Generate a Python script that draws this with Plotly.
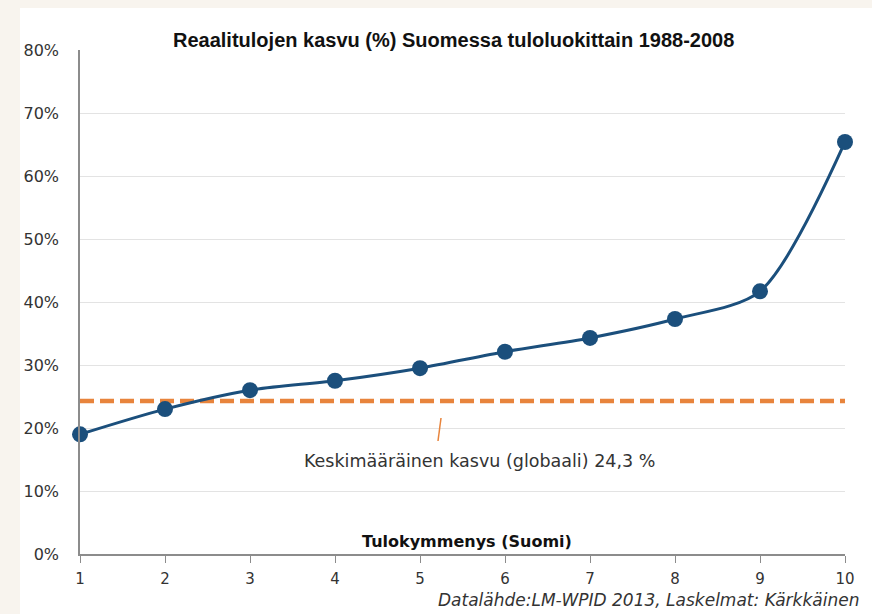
import plotly.graph_objects as go

deciles = [1, 2, 3, 4, 5, 6, 7, 8, 9, 10]
growth = [19.0, 23.0, 26.0, 27.5, 29.5, 32.1, 34.3, 37.3, 41.7, 65.4]
global_avg = 24.3
y_ticks = [0, 10, 20, 30, 40, 50, 60, 70, 80]
y_tick_labels = [f"{v}%" for v in y_ticks]

title = "Reaalitulojen kasvu (%) Suomessa tuloluokittain 1988-2008"
x_title = "Tulokymmenys (Suomi)"
avg_label = "Keskimääräinen kasvu (globaali) 24,3 %"
source = "Datalähde:LM-WPID 2013, Laskelmat: Kärkkäinen"

W, H = 872, 614
L, R, T, B = 80, 27, 50, 60
pw, ph = W - L - R, H - T - B

def px_x(p):
    return (p - L) / pw

def px_y(p):
    return (H - B - p) / ph

fig = go.Figure()

fig.add_trace(go.Scatter(
    x=[deciles[0], deciles[-1]], y=[global_avg, global_avg],
    mode="lines", line=dict(color="#e8843c", width=4.5, dash="14px,6px"),
    hoverinfo="skip", showlegend=False))

fig.add_trace(go.Scatter(
    x=deciles, y=growth, mode="lines+markers",
    line=dict(color="#1b4f7c", width=3, shape="spline", smoothing=0.8),
    marker=dict(color="#1b4f7c", size=16),
    cliponaxis=False, showlegend=False))

shapes = [
    dict(type="rect", xref="paper", yref="paper", x0=px_x(0), x1=px_x(20), y0=px_y(H), y1=px_y(0),
         fillcolor="#f8f4ee", line=dict(width=0), layer="below"),
    dict(type="rect", xref="paper", yref="paper", x0=px_x(0), x1=px_x(W), y0=px_y(8), y1=px_y(0),
         fillcolor="#f8f4ee", line=dict(width=0), layer="below"),
    dict(type="line", xref="paper", yref="paper", x0=px_x(441), x1=px_x(438), y0=px_y(418), y1=px_y(441),
         line=dict(color="#e8843c", width=1.5)),
]

annotations = [
    dict(text=f"<b>{title}</b>", xref="paper", yref="paper", x=px_x(453), y=px_y(40),
         showarrow=False, font=dict(family="Liberation Sans", size=20, color="#111111"),
         xanchor="center", yanchor="middle"),
    dict(text=f"<b>{x_title}</b>", xref="paper", yref="paper", x=px_x(467), y=px_y(541),
         showarrow=False, font=dict(family="DejaVu Sans", size=16, color="#111111"),
         xanchor="center", yanchor="middle"),
    dict(text=avg_label, xref="paper", yref="paper", x=px_x(479), y=px_y(461),
         showarrow=False, font=dict(family="DejaVu Sans", size=17.5, color="#333333"),
         xanchor="center", yanchor="middle"),
    dict(text=f"<i>{source}</i>", xref="paper", yref="paper", x=px_x(861), y=px_y(600),
         showarrow=False, font=dict(family="DejaVu Sans", size=17, color="#333333"),
         xanchor="right", yanchor="middle"),
]

fig.update_layout(
    width=W, height=H,
    margin=dict(l=L, r=R, t=T, b=B),
    paper_bgcolor="white", plot_bgcolor="white",
    shapes=shapes, annotations=annotations,
    xaxis=dict(range=[1, 10], tickvals=deciles, showgrid=False, zeroline=False,
               showline=True, linecolor="#8c8c8c", linewidth=1.5,
               ticks="outside", ticklen=7, tickcolor="#8c8c8c",
               ticklabelstandoff=3,
               tickfont=dict(family="DejaVu Sans", size=15, color="#333333")),
    yaxis=dict(range=[0, 80], tickvals=y_ticks, ticktext=y_tick_labels,
               showgrid=True, gridcolor="#e3e3e3", gridwidth=1, zeroline=False,
               showline=True, linecolor="#8c8c8c", linewidth=1.5, ticks="",
               ticklabelstandoff=16,
               tickfont=dict(family="DejaVu Sans", size=16, color="#333333")),
)

fig.write_html("out.html", config={"displayModeBar": False},
               post_script="document.body.style.margin='0';")
